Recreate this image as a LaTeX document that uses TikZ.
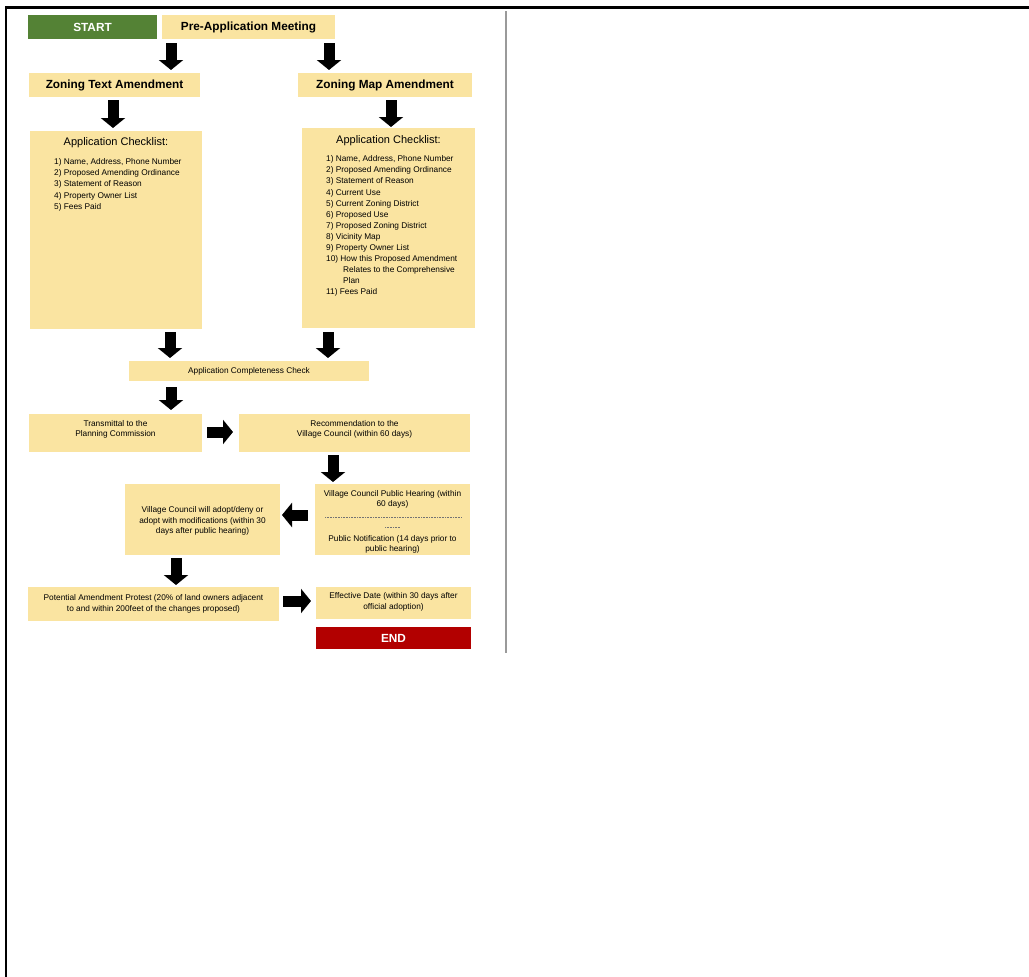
\documentclass[tikz,border=0pt]{standalone}
\usepackage{fontspec}
\setmainfont{Liberation Sans}
\usetikzlibrary{arrows.meta}
\definecolor{boxyellow}{HTML}{FAE4A1}
\definecolor{startgreen}{HTML}{548235}
\definecolor{endred}{HTML}{B20000}
\definecolor{sepgray}{HTML}{9A9A9A}
\tikzset{
  box/.style={fill=boxyellow, draw=none, inner sep=0pt, align=center},
  headtxt/.style={font=\fontsize{11.8}{14}\selectfont\bfseries},
  smalltxt/.style={font=\fontsize{8.3}{10.6}\selectfont},
  listtxt/.style={font=\fontsize{8.3}{11.1}\selectfont, align=left, inner sep=0pt, anchor=north west},
  titletxt/.style={font=\fontsize{11}{13}\selectfont, inner sep=0pt},
  blockarrow/.style={line width=11pt, -{Triangle[width=24pt,length=10pt]}, black},
  dotline/.style={draw=black!55, line width=0.5pt, dash pattern=on 0.9pt off 0.7pt},
}
\begin{document}
\begin{tikzpicture}[x=1pt,y=-1pt]
\useasboundingbox (0,0) rectangle (1029,977);
% frame
\coordinate (ftl) at (6,7.5);
\coordinate (ftr) at (1029,7.5);
\coordinate (fbl) at (6,977);
\draw[line width=2.2pt] (ftr) -- (ftl) -- (fbl);
\coordinate (sgt) at (506,11);
\coordinate (sgb) at (506,653);
\draw[sepgray, line width=1.4pt] (sgt) -- (sgb);

% boxes
\node[box, fill=startgreen, text=white, headtxt, minimum width=129pt, minimum height=24pt] (start) at (92.5,27) {START};
\node[box, headtxt, minimum width=173pt, minimum height=24pt] (pre) at (248.5,27) {Pre-Application Meeting};
\node[box, headtxt, minimum width=171pt, minimum height=24pt] (ztext) at (114.5,85) {Zoning Text Amendment};
\node[box, headtxt, minimum width=174pt, minimum height=24pt] (zmap) at (385,85) {Zoning Map Amendment};

\node[box, minimum width=172pt, minimum height=198pt] (chkL) at (116,230) {};
\node[box, minimum width=173pt, minimum height=200pt] (chkR) at (388.5,228) {};
\node[titletxt] (chkLt) at (116,143) {Application Checklist:};
\node[titletxt] (chkRt) at (388.5,141) {Application Checklist:};
\node[listtxt] (chkLl) at (54,158.5) {1) Name, Address, Phone Number\\2) Proposed Amending Ordinance\\3) Statement of Reason\\4) Property Owner List\\5) Fees Paid};
\node[listtxt] (chkRl) at (326,155.5) {1) Name, Address, Phone Number\\2) Proposed Amending Ordinance\\3) Statement of Reason\\4) Current Use\\5) Current Zoning District\\6) Proposed Use\\7) Proposed Zoning District\\8) Vicinity Map\\9) Property Owner List\\10) How this Proposed Amendment\\\hspace*{17pt}Relates to the Comprehensive\\\hspace*{17pt}Plan\\11) Fees Paid};

\node[box, smalltxt, minimum width=240pt, minimum height=20pt] (comp) at (249,371) {Application Completeness Check};
\node[box, smalltxt, minimum width=173pt, minimum height=38pt] (trans) at (115.5,433) {};
\node[smalltxt, align=center, inner sep=0pt] (transt) at (115.5,429.5) {Transmittal to the\\Planning Commission};
\node[box, smalltxt, minimum width=231pt, minimum height=38pt] (rec) at (354.5,433) {};
\node[smalltxt, align=center, inner sep=0pt] (rect) at (354.5,429.5) {Recommendation to the\\Village Council (within 60 days)};

\node[box, minimum width=155pt, minimum height=71pt] (hear) at (392.5,519.5) {};
\node[smalltxt, align=center, inner sep=0pt] (heart1) at (392.5,499.5) {Village Council Public Hearing (within\\60 days)};
\coordinate (hd1w) at (325,517);
\coordinate (hd1e) at (462,517);
\draw[dotline] (hd1w) -- (hd1e);
\coordinate (hd2w) at (385,527);
\coordinate (hd2e) at (400,527);
\draw[dotline] (hd2w) -- (hd2e);
\begin{scope}
\clip (hear.south west) rectangle (hear.north east);
\node[smalltxt, align=center, inner sep=0pt] (heart2) at (392.5,544.5) {Public Notification (14 days prior to\\public hearing)};
\end{scope}

\node[box, minimum width=155pt, minimum height=71pt] (adopt) at (202.5,519.5) {};
\node[smalltxt, align=center, inner sep=0pt] (adoptt) at (202.5,521) {Village Council will adopt/deny or\\adopt with modifications (within 30\\days after public hearing)};

\node[box, minimum width=251pt, minimum height=34pt] (prot) at (153.5,604) {};
\node[smalltxt, align=center, inner sep=0pt] (prott) at (153.5,604) {Potential Amendment Protest (20\% of land owners adjacent\\to and within 200feet of the changes proposed)};
\node[box, minimum width=155pt, minimum height=32pt] (eff) at (393.5,603) {};
\node[smalltxt, align=center, inner sep=0pt] (efft) at (393.5,602) {Effective Date (within 30 days after\\official adoption)};
\node[box, fill=endred, text=white, headtxt, minimum width=155pt, minimum height=22pt] (end) at (393.5,638) {END};

% block arrows
\coordinate (a1s) at (171,43);  \coordinate (a1e) at (171,70);
\coordinate (a2s) at (329,43);  \coordinate (a2e) at (329,70);
\coordinate (a3s) at (113,100); \coordinate (a3e) at (113,128);
\coordinate (a4s) at (391,100); \coordinate (a4e) at (391,127);
\coordinate (a5s) at (170,332); \coordinate (a5e) at (170,358);
\coordinate (a6s) at (328,332); \coordinate (a6e) at (328,358);
\coordinate (a7s) at (171,387); \coordinate (a7e) at (171,410);
\coordinate (a8s) at (207,432); \coordinate (a8e) at (233,432);
\coordinate (a9s) at (333,455); \coordinate (a9e) at (333,482);
\coordinate (a10s) at (308,515); \coordinate (a10e) at (282,515);
\coordinate (a11s) at (176,558); \coordinate (a11e) at (176,585);
\coordinate (a12s) at (283,601); \coordinate (a12e) at (311,601);
\foreach \i in {1,...,12} {\draw[blockarrow] (a\i s) -- (a\i e);}
\end{tikzpicture}
\end{document}
